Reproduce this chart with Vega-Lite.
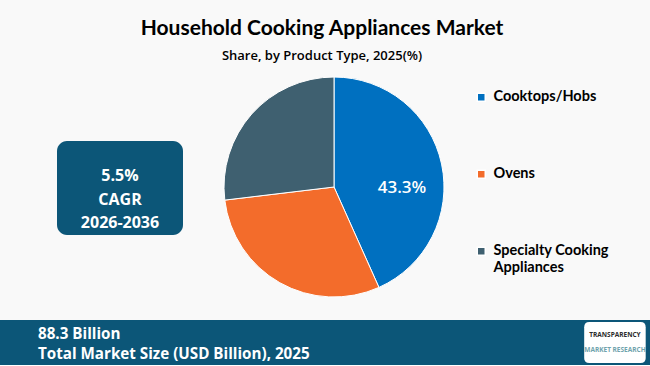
{
  "$schema": "https://vega.github.io/schema/vega-lite/v6.json",
  "background": "#f9f9f9",
  "padding": {"top": 18, "left": 0, "right": 0, "bottom": 0},
  "title": {
    "text": "Household Cooking Appliances Market",
    "subtitle": "Share, by Product Type, 2025(%)",
    "anchor": "middle",
    "dx": -3,
    "font": "Lato",
    "fontSize": 21,
    "fontWeight": "bold",
    "color": "#000000",
    "subtitleFont": "Open Sans",
    "subtitleFontSize": 13,
    "subtitleFontWeight": 600,
    "subtitleColor": "#000000",
    "subtitlePadding": 11,
    "offset": 12
  },
  "spacing": 21,
  "resolve": {"scale": {"color": "independent"}, "legend": {"color": "independent"}},
  "vconcat": [
    {
      "spacing": 39,
      "center": true,
      "resolve": {"scale": {"color": "independent"}, "legend": {"color": "independent"}},
      "hconcat": [
        {
          "width": 18,
          "height": 1,
          "data": {"values": []},
          "mark": "point"
        },
        {
          "width": 126,
          "height": 94,
          "view": {"fill": "#0c5678", "cornerRadius": 10, "stroke": null},
          "data": {
            "values": [
              {"row": 1, "line": "5.5%"},
              {"row": 2, "line": "CAGR"},
              {"row": 3, "line": "2026-2036"}
            ]
          },
          "mark": {"type": "text", "font": "Open Sans", "fontSize": 16, "fontWeight": "bold", "color": "#ffffff", "align": "center", "baseline": "middle"},
          "encoding": {
            "y": {"field": "row", "type": "ordinal", "scale": {"type": "point", "padding": 1.04, "align": 0.75}, "axis": null},
            "text": {"field": "line"}
          }
        },
        {
          "width": 220,
          "height": 220,
          "data": {
            "values": [
              {"type": "Cooktops/Hobs", "share": 43.3, "order": 1, "label": "43.3%"},
              {"type": "Ovens", "share": 29.8, "order": 2, "label": ""},
              {"type": "Specialty Cooking Appliances", "share": 26.9, "order": 3, "label": ""}
            ]
          },
          "encoding": {
            "theta": {"field": "share", "type": "quantitative", "stack": true},
            "order": {"field": "order", "type": "quantitative"}
          },
          "layer": [
            {
              "mark": {"type": "arc", "outerRadius": 110, "stroke": "#ffffff", "strokeWidth": 1},
              "encoding": {
                "color": {
                  "field": "type",
                  "type": "nominal",
                  "scale": {
                    "domain": ["Cooktops/Hobs", "Ovens", "Specialty Cooking Appliances"],
                    "range": ["#0070c0", "#f36c2b", "#3f6070"]
                  },
                  "legend": {
                    "title": null,
                    "orient": "right",
                    "offset": 17,
                    "padding": 13,
                    "symbolType": "square",
                    "symbolSize": 64,
                    "labelFont": "Lato",
                    "labelFontSize": 14.5,
                    "labelFontWeight": "bold",
                    "labelColor": "#000000",
                    "labelOffset": 5,
                    "labelLimit": 220,
                    "rowPadding": 61,
                    "labelExpr": "datum.label == 'Specialty Cooking Appliances' ? ['Specialty Cooking', 'Appliances'] : datum.label",
                    "encode": {"labels": {"update": {"lineHeight": {"value": 20}}}}
                  }
                }
              }
            },
            {
              "mark": {"type": "text", "radius": 68, "thetaOffset": 0.23, "font": "Open Sans", "fontSize": 17, "fontWeight": 600, "color": "#ffffff"},
              "encoding": {"text": {"field": "label"}}
            }
          ]
        }
      ]
    },
    {
      "width": 650,
      "height": 45,
      "view": {"fill": "#0c5678", "stroke": null},
      "layer": [
        {
          "data": {
            "values": [
              {"pos": "left", "row": 1, "line": "88.3 Billion"},
              {"pos": "left", "row": 2, "line": "Total Market Size (USD Billion), 2025"}
            ]
          },
          "mark": {"type": "text", "align": "left", "baseline": "middle", "font": "Open Sans", "fontSize": 15.2, "fontWeight": "bold", "color": "#ffffff"},
          "encoding": {
            "x": {"field": "pos", "type": "nominal", "scale": {"type": "point", "domain": ["left", "right"], "padding": 0.0633, "align": 0.52}, "axis": null},
            "y": {"field": "row", "type": "ordinal", "scale": {"type": "point", "padding": 0.65, "align": 0.55}, "axis": null},
            "text": {"field": "line"}
          }
        },
        {
          "data": {"values": [{"pos": "right"}]},
          "mark": {
            "type": "point",
            "shape": "M -1.25 -1 L 1.25 -1 Q 1.5 -1 1.5 -0.75 L 1.5 0.75 Q 1.5 1 1.25 1 L -1.25 1 Q -1.5 1 -1.5 0.75 L -1.5 -0.75 Q -1.5 -1 -1.25 -1 Z",
            "size": 1681,
            "filled": true,
            "fill": "#ffffff",
            "opacity": 1,
            "strokeWidth": 0
          },
          "encoding": {
            "x": {"field": "pos", "type": "nominal", "scale": {"type": "point", "domain": ["left", "right"], "padding": 0.0633, "align": 0.52}, "axis": null}
          }
        },
        {
          "data": {
            "values": [
              {"pos": "right", "lrow": 1, "line": "TRANSPARENCY"},
              {"pos": "right", "lrow": 2, "line": "MARKET RESEARCH"}
            ]
          },
          "mark": {"type": "text", "align": "center", "baseline": "middle", "font": "Open Sans", "fontSize": 6.5, "fontWeight": "bold"},
          "encoding": {
            "x": {"field": "pos", "type": "nominal", "scale": {"type": "point", "domain": ["left", "right"], "padding": 0.0633, "align": 0.52}, "axis": null},
            "y": {"field": "lrow", "type": "ordinal", "scale": {"type": "point", "padding": 3.25, "align": 0.5}, "axis": null},
            "text": {"field": "line"},
            "color": {"condition": {"test": "datum.lrow == 1", "value": "#2b2b2b"}, "value": "#6fa3ad"}
          }
        }
      ],
      "resolve": {"scale": {"y": "independent"}}
    }
  ],
  "config": {"view": {"stroke": null}}
}
